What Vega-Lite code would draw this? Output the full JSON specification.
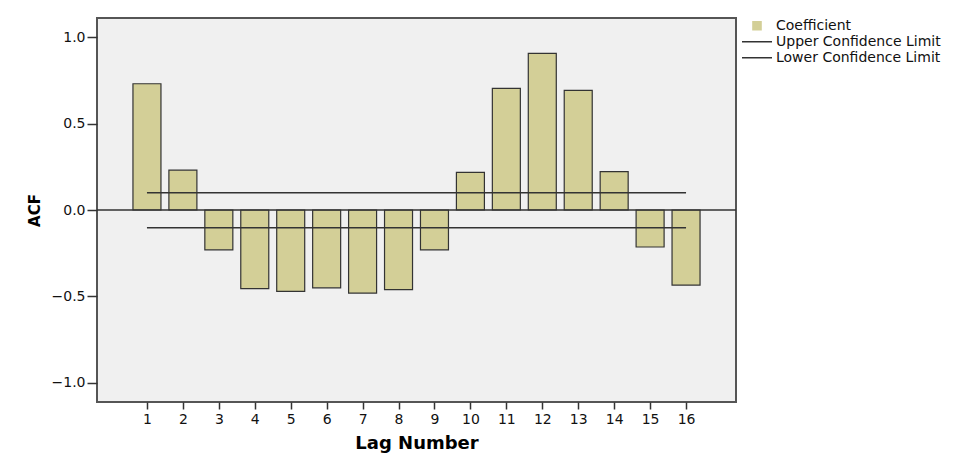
{
  "$schema": "https://vega.github.io/schema/vega-lite/v6.json",
  "width": 639,
  "height": 384,
  "autosize": {"type": "none"},
  "padding": {"left": 97, "top": 18, "right": 229, "bottom": 57},
  "background": "white",
  "config": {
    "font": "DejaVu Sans",
    "view": {"fill": "#f0f0f0", "stroke": "#555555", "strokeWidth": 2},
    "axis": {
      "domain": false,
      "grid": false,
      "tickColor": "#333333",
      "tickWidth": 1.5,
      "labelColor": "#111111",
      "labelFont": "DejaVu Sans",
      "labelFontSize": 14,
      "titleFont": "DejaVu Sans",
      "titleFontWeight": "bold",
      "titleColor": "#000000"
    },
    "legend": {
      "orient": "none",
      "legendX": 644,
      "legendY": 0,
      "padding": 0,
      "labelFont": "DejaVu Sans",
      "labelFontSize": 14,
      "labelColor": "#111111",
      "labelLimit": 0,
      "symbolSize": 900,
      "symbolType": "stroke",
      "clipHeight": 15.5,
      "rowPadding": 0,
      "labelOffset": 3
    }
  },
  "datasets": {
    "acf": [
      {"lag": 1, "acf": 0.73},
      {"lag": 2, "acf": 0.23},
      {"lag": 3, "acf": -0.23},
      {"lag": 4, "acf": -0.455},
      {"lag": 5, "acf": -0.47},
      {"lag": 6, "acf": -0.45},
      {"lag": 7, "acf": -0.48},
      {"lag": 8, "acf": -0.46},
      {"lag": 9, "acf": -0.23},
      {"lag": 10, "acf": 0.218},
      {"lag": 11, "acf": 0.703},
      {"lag": 12, "acf": 0.906},
      {"lag": 13, "acf": 0.692},
      {"lag": 14, "acf": 0.222},
      {"lag": 15, "acf": -0.214},
      {"lag": 16, "acf": -0.434}
    ],
    "ci": [
      {"series": "Upper Confidence Limit", "start": 1, "end": 16, "limit": 0.1},
      {"series": "Lower Confidence Limit", "start": 1, "end": 16, "limit": -0.102}
    ],
    "zero": [{"level": 0}]
  },
  "layer": [
    {
      "data": {"name": "acf"},
      "mark": {"type": "bar", "width": 28, "stroke": "#333333", "strokeWidth": 1.2},
      "encoding": {
        "x": {
          "field": "lag",
          "type": "quantitative",
          "scale": {"domain": [-0.39, 17.39], "nice": false, "zero": false, "padding": 0},
          "axis": {
            "values": [1, 2, 3, 4, 5, 6, 7, 8, 9, 10, 11, 12, 13, 14, 15, 16],
            "format": "d",
            "tickSize": 7,
            "labelPadding": 3,
            "title": "Lag Number",
            "titleFontSize": 18,
            "titlePadding": 8
          }
        },
        "y": {
          "field": "acf",
          "type": "quantitative",
          "scale": {"domain": [-1.11, 1.11], "nice": false, "zero": false, "padding": 0},
          "axis": {
            "values": [-1, -0.5, 0, 0.5, 1],
            "format": ".1f",
            "tickSize": 10,
            "labelPadding": 2,
            "title": "ACF",
            "titleFontSize": 15,
            "titlePadding": 9
          }
        },
        "y2": {"datum": 0},
        "color": {
          "datum": "Coefficient",
          "type": "nominal",
          "scale": {
            "domain": ["Coefficient", "Upper Confidence Limit", "Lower Confidence Limit"],
            "range": ["#d3cf97", "#333333", "#333333"]
          },
          "legend": {
            "title": null,
            "encode": {
              "symbols": {
                "update": {
                  "shape": {"signal": "datum.label === 'Coefficient' ? 'M-0.27,-0.27H0.27V0.27H-0.27Z' : 'stroke'"},
                  "fill": {"signal": "datum.label === 'Coefficient' ? '#d3cf97' : 'transparent'"},
                  "stroke": {"value": "#333333"},
                  "strokeWidth": {"value": 1.5}
                }
              }
            }
          }
        }
      }
    },
    {
      "data": {"name": "zero"},
      "mark": {"type": "rule", "color": "#333333", "strokeWidth": 1.5},
      "encoding": {
        "y": {"field": "level", "type": "quantitative"}
      }
    },
    {
      "data": {"name": "ci"},
      "mark": {"type": "rule", "strokeWidth": 1.5},
      "encoding": {
        "x": {"field": "start", "type": "quantitative"},
        "x2": {"field": "end"},
        "y": {"field": "limit", "type": "quantitative"},
        "color": {
          "field": "series",
          "type": "nominal",
          "legend": {
            "title": null,
            "encode": {
              "symbols": {
                "update": {
                  "shape": {"signal": "datum.label === 'Coefficient' ? 'M-0.27,-0.27H0.27V0.27H-0.27Z' : 'stroke'"},
                  "fill": {"signal": "datum.label === 'Coefficient' ? '#d3cf97' : 'transparent'"},
                  "stroke": {"value": "#333333"},
                  "strokeWidth": {"value": 1.5}
                }
              }
            }
          }
        }
      }
    }
  ]
}
